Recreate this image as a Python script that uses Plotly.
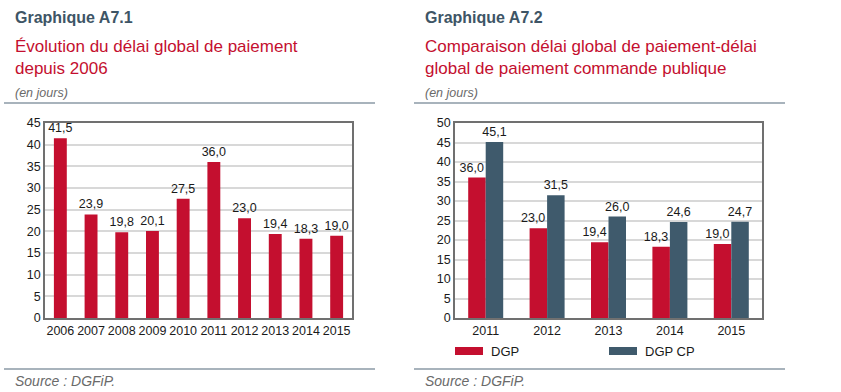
import plotly.graph_objects as go

# ---- data ----
years_a = ["2006", "2007", "2008", "2009", "2010", "2011", "2012", "2013", "2014", "2015"]
dgp_a = [41.5, 23.9, 19.8, 20.1, 27.5, 36.0, 23.0, 19.4, 18.3, 19.0]

years_b = ["2011", "2012", "2013", "2014", "2015"]
dgp_b = [36.0, 23.0, 19.4, 18.3, 19.0]
dgp_cp_b = [45.1, 31.5, 26.0, 24.6, 24.7]

RED = "#c40f2f"
SLATE = "#3f5a6c"
TITLE_GREY = "#3e5566"
FONT = "Liberation Sans, Arial, sans-serif"

W, H = 841, 392


def px(x):
    return x / W


def py(y):
    return 1 - y / H


fig = go.Figure()

label_font = dict(size=12.5, color="#1a1a1a", family=FONT)

fig.add_trace(go.Bar(
    x=years_a, y=dgp_a, marker_color=RED, marker_line_width=0,
    texttemplate="%{y:.1f}", textposition="outside", cliponaxis=False,
    constraintext="none", textfont=label_font,
    xaxis="x", yaxis="y", showlegend=False, width=0.42,
))
fig.add_trace(go.Bar(
    x=years_b, y=dgp_b, name="DGP", marker_color=RED, marker_line_width=0,
    texttemplate="%{y:.1f}\u00a0\u00a0\u00a0", textposition="outside", cliponaxis=False,
    constraintext="none", textfont=label_font,
    xaxis="x2", yaxis="y2", showlegend=False,
))
fig.add_trace(go.Bar(
    x=years_b, y=dgp_cp_b, name="DGP CP", marker_color=SLATE, marker_line_width=0,
    texttemplate="%{y:.1f}", textposition="outside", cliponaxis=False,
    constraintext="none", textfont=label_font,
    xaxis="x2", yaxis="y2", showlegend=False,
))

axis_common = dict(showline=True, linecolor="#707070", linewidth=1.5, mirror=True,
                   ticks="", tickfont=dict(size=12.5, color="#1a1a1a", family=FONT),
                   fixedrange=True, automargin=False)

fig.update_layout(
    width=W, height=H,
    margin=dict(l=0, r=0, t=0, b=0, pad=0, autoexpand=False),
    paper_bgcolor="white", plot_bgcolor="white",
    separators=", ",
    showlegend=False,
    barmode="group", bargap=0.43, bargroupgap=0,
    font=dict(family=FONT),
    xaxis=dict(domain=[px(45), px(352)], anchor="y", tickangle=0, **axis_common),
    yaxis=dict(domain=[py(318), py(123)], anchor="x", range=[0, 45], dtick=5,
               showgrid=True, gridcolor="#d8d8d8", gridwidth=1.5, zeroline=False,
               **axis_common),
    xaxis2=dict(domain=[px(455), px(762)], anchor="y2", tickangle=0, **axis_common),
    yaxis2=dict(domain=[py(318), py(123)], anchor="x2", range=[0, 50], dtick=5,
                showgrid=True, gridcolor="#d8d8d8", gridwidth=1.5, zeroline=False,
                **axis_common),
)

ann = []
shapes = []
for x0, head, sub, xr in [
    (13, "Graphique A7.1", "Évolution du délai global de paiement<br>depuis 2006", 375),
    (423, "Graphique A7.2", "Comparaison délai global de paiement-délai<br>global de paiement commande publique", 785),
]:
    ann.append(dict(x=px(x0), y=py(17), xref="paper", yref="paper", xanchor="left", yanchor="middle",
                    text="<b>%s</b>" % head, showarrow=False,
                    font=dict(size=16, color=TITLE_GREY, family=FONT)))
    ann.append(dict(x=px(x0), y=py(57), xref="paper", yref="paper", xanchor="left", yanchor="middle",
                    text=sub, showarrow=False, align="left",
                    font=dict(size=17, color=RED, family=FONT)))
    ann.append(dict(x=px(x0), y=py(93), xref="paper", yref="paper", xanchor="left", yanchor="middle",
                    text="<i>(en jours)</i>", showarrow=False,
                    font=dict(size=12.5, color="#6a6a6a", family=FONT)))
    ann.append(dict(x=px(x0), y=py(381), xref="paper", yref="paper", xanchor="left", yanchor="middle",
                    text="<i>Source : DGFiP.</i>", showarrow=False,
                    font=dict(size=14, color="#6a6a6a", family=FONT)))
    for yy in (103, 369):
        shapes.append(dict(type="line", xref="paper", yref="paper",
                           x0=px(x0 - 9), x1=px(xr), y0=py(yy), y1=py(yy),
                           line=dict(color="#8b9aa6", width=1.5)))

# legend for chart 2
for (lx, label, col) in [(455, "DGP", RED), (609, "DGP CP", SLATE)]:
    shapes.append(dict(type="rect", xref="paper", yref="paper",
                       x0=px(lx), x1=px(lx + 28), y0=py(355), y1=py(347),
                       fillcolor=col, line=dict(width=0)))
    ann.append(dict(x=px(lx + 34), y=py(351), xref="paper", yref="paper", xanchor="left",
                    yanchor="middle", text=label, showarrow=False,
                    font=dict(size=13, color="#1a1a1a", family=FONT)))

fig.update_layout(annotations=ann, shapes=shapes)

fig.write_html("out.html", config={"displayModeBar": False},
               post_script="document.body.style.margin='0';")
